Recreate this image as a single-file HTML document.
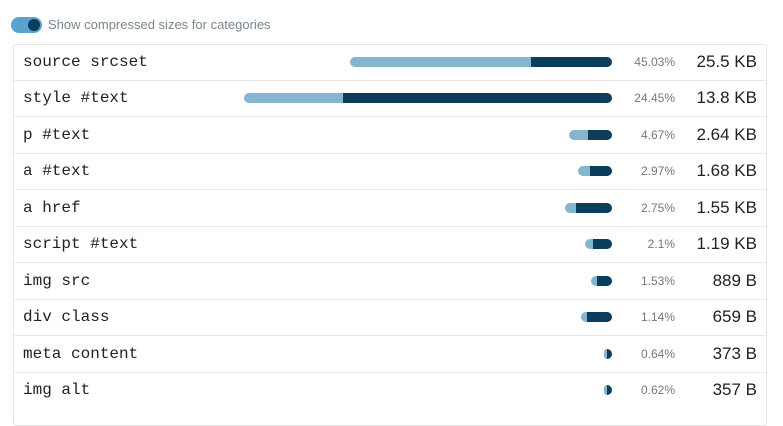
<!DOCTYPE html>
<html><head><style>
body{margin:0;width:783px;height:408px;background:#fff;font-family:"Liberation Sans",sans-serif;position:relative;overflow:hidden}
.tog{position:absolute;left:11px;top:17px;width:31px;height:16px;border-radius:8px;background:#5ba3cc}
.tog:after{content:"";position:absolute;right:2px;top:2px;width:12px;height:12px;border-radius:50%;background:#0b3d5c}
.lbl{position:absolute;left:48px;top:17px;font-size:13px;color:#7a8590}
.box{position:absolute;left:13px;top:44px;width:752px;height:380px;border:1px solid #e6e6e6;border-radius:3px}
.row{position:absolute;left:14px;width:752px;height:36px;border-bottom:1px solid #e8e8e8}
.n{position:absolute;left:9px;top:9px;font-family:"Liberation Mono",monospace;font-size:16px;color:#222}
.l,.d{position:absolute;top:13px;height:10px}
.l{background:#85b5cf;border-radius:5px 0 0 5px}
.d{background:#0b3d5c;border-radius:0 5px 5px 0}
.p{position:absolute;right:91px;top:11px;font-size:12px;color:#777}
.s{position:absolute;right:9px;top:8px;font-size:17px;color:#222}
</style></head><body>
<div class="tog"></div><div class="lbl">Show compressed sizes for categories</div>
<div class="box"></div>
<div class="row" style="top:44px"><div class="n">source srcset</div><div class="l" style="left:336px;width:181px"></div><div class="d" style="left:517px;width:81px"></div><div class="p">45.03%</div><div class="s">25.5 KB</div></div>
<div class="row" style="top:80px"><div class="n">style #text</div><div class="l" style="left:230px;width:99px"></div><div class="d" style="left:329px;width:269px"></div><div class="p">24.45%</div><div class="s">13.8 KB</div></div>
<div class="row" style="top:117px"><div class="n">p #text</div><div class="l" style="left:555px;width:19px"></div><div class="d" style="left:574px;width:24px"></div><div class="p">4.67%</div><div class="s">2.64 KB</div></div>
<div class="row" style="top:153px"><div class="n">a #text</div><div class="l" style="left:564px;width:12px"></div><div class="d" style="left:576px;width:22px"></div><div class="p">2.97%</div><div class="s">1.68 KB</div></div>
<div class="row" style="top:190px"><div class="n">a href</div><div class="l" style="left:551px;width:11px"></div><div class="d" style="left:562px;width:36px"></div><div class="p">2.75%</div><div class="s">1.55 KB</div></div>
<div class="row" style="top:226px"><div class="n">script #text</div><div class="l" style="left:571px;width:8px"></div><div class="d" style="left:579px;width:19px"></div><div class="p">2.1%</div><div class="s">1.19 KB</div></div>
<div class="row" style="top:263px"><div class="n">img src</div><div class="l" style="left:577px;width:6px"></div><div class="d" style="left:583px;width:15px"></div><div class="p">1.53%</div><div class="s">889 B</div></div>
<div class="row" style="top:299px"><div class="n">div class</div><div class="l" style="left:567px;width:6px"></div><div class="d" style="left:573px;width:25px"></div><div class="p">1.14%</div><div class="s">659 B</div></div>
<div class="row" style="top:336px"><div class="n">meta content</div><div class="l" style="left:590px;width:3px"></div><div class="d" style="left:593px;width:5px"></div><div class="p">0.64%</div><div class="s">373 B</div></div>
<div class="row" style="top:372px;border-bottom:none"><div class="n">img alt</div><div class="l" style="left:590px;width:3px"></div><div class="d" style="left:593px;width:5px"></div><div class="p">0.62%</div><div class="s">357 B</div></div>
</body></html>
